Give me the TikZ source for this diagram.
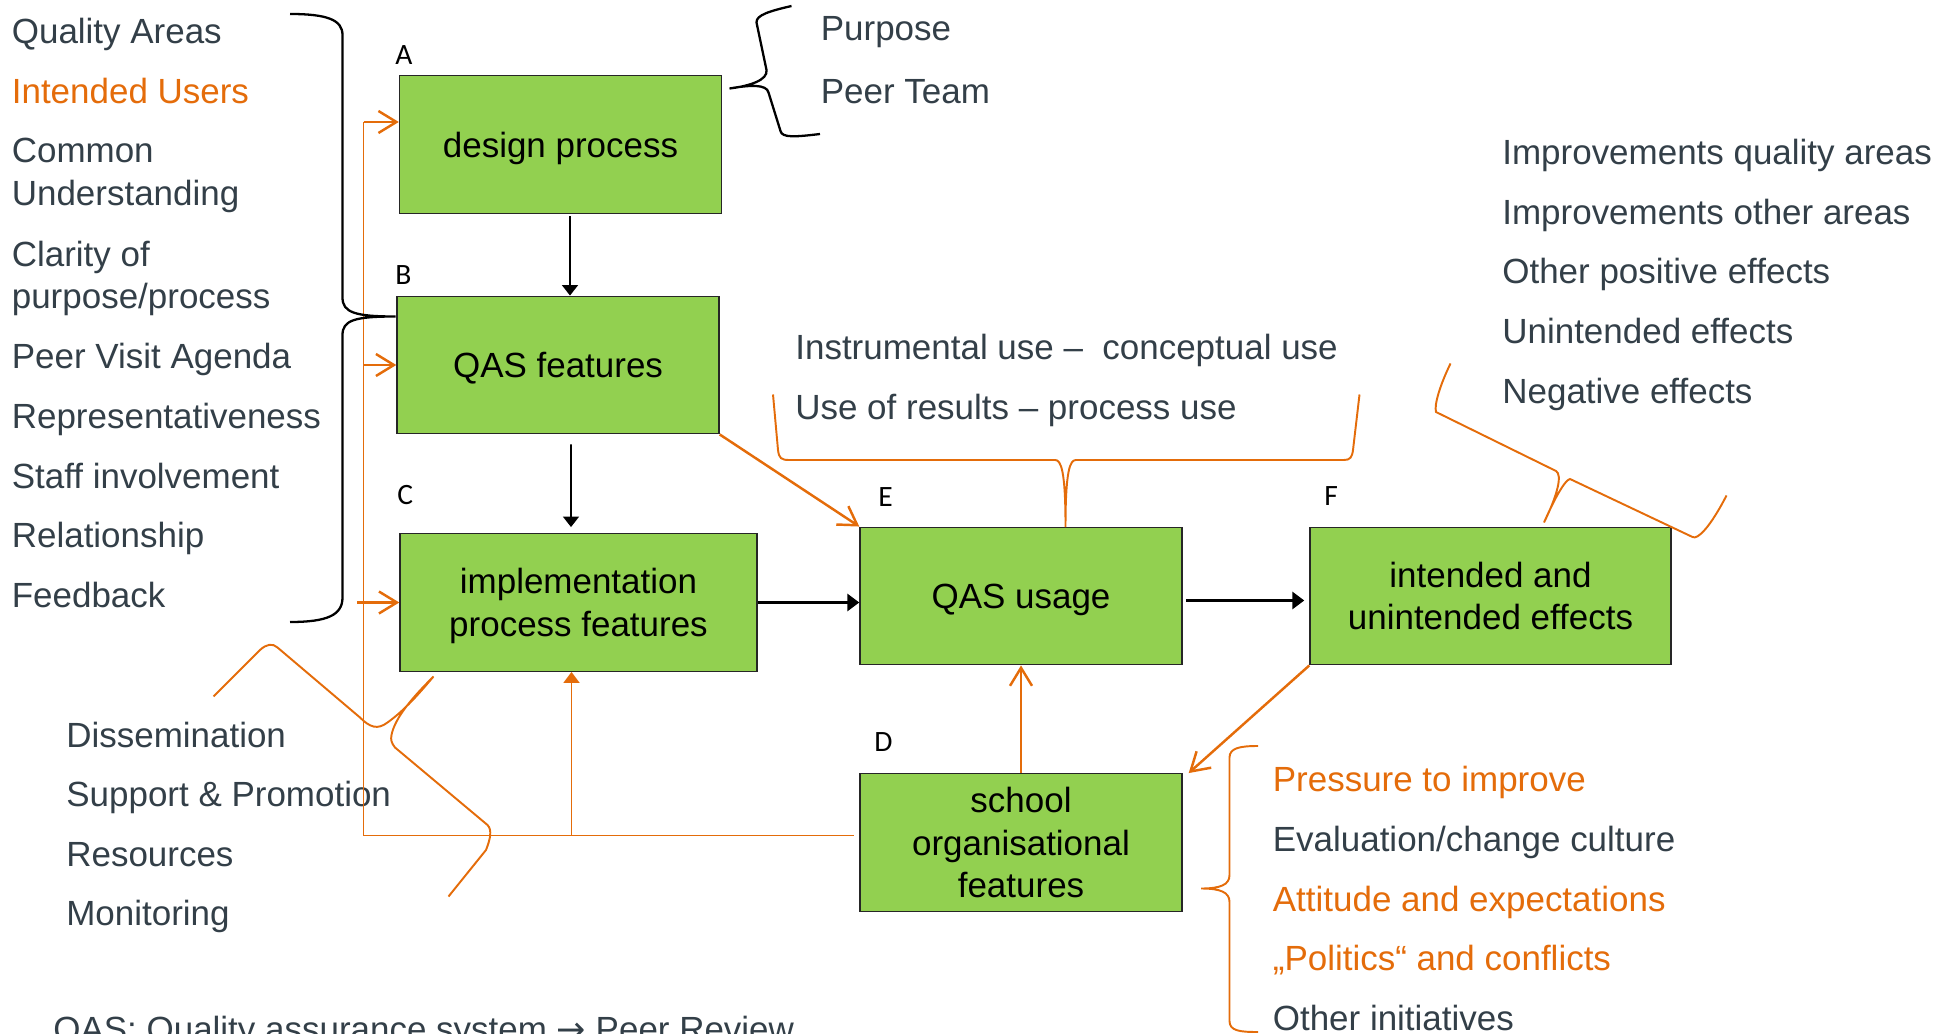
\documentclass[tikz,border=0pt]{standalone}
\usepackage{fontspec}
\setmainfont{Liberation Sans}
\newfontfamily\letterfont{Carlito}
\newfontfamily\arrowfont{DejaVu Sans}
\usetikzlibrary{positioning,arrows.meta}
\definecolor{boxgreen}{HTML}{92D050}
\definecolor{qasorange}{HTML}{E46C0A}
\definecolor{textgray}{HTML}{333F48}

\begin{document}
\begin{tikzpicture}[
green_box/.style={rectangle, draw=black!85, fill=boxgreen, line width=0.8pt, inner sep=0pt, minimum width=64.4mm, minimum height=27.5mm, text depth=0pt, align=center, font=\fontsize{19.9}{24.2}\selectfont},
box_letter/.style={anchor=base west, inner sep=0pt, font=\letterfont\fontsize{16.8}{20}\selectfont},
list_text/.style={anchor=base west, inner sep=0pt, align=left, text=textgray, font=\fontsize{19.9}{24.2}\selectfont},
orange_text/.style={list_text, text=qasorange},
black_arrow/.style={-{Triangle[length=2.1mm,width=3.2mm]}, line width=1pt},
thick_arrow/.style={-{Triangle[length=2.4mm,width=3.4mm]}, line width=2pt},
orange_arrow/.style={-{Straight Barb[length=3.6mm,width=4.4mm]}, draw=qasorange, line width=1.4pt},
orange_fill_arrow/.style={-{Triangle[length=2.2mm,width=3.2mm]}, draw=qasorange, fill=qasorange, line width=1.1pt},
orange_line/.style={draw=qasorange, line width=1.1pt},
black_brace/.style={draw=black, line width=1.3pt},
orange_brace/.style={draw=qasorange, line width=1.1pt}
]
\useasboundingbox (0,0) rectangle (39.06,-20.68);
\clip (0,0) rectangle (39.06,-20.68);

% boxes
\node[green_box](design_process) at (11.21,-2.89) {design process};
\node[green_box](qas_features) at (11.16,-7.30) {QAS features};
\node[green_box, minimum width=71.4mm](implementation) at (11.57,-12.05) {implementation\\process features};
\node[green_box](qas_usage) at (20.42,-11.92) {QAS usage};
\node[green_box, minimum width=72.2mm](effects) at (29.81,-11.92) {intended and\\unintended effects};
\node[green_box](school) at (20.42,-16.85) {school\\organisational\\features};

\node[box_letter](letter_A) at (7.90,-1.30) {A};
\node[box_letter](letter_B) at (7.90,-5.70) {B};
\node[box_letter](letter_C) at (7.94,-10.08) {C};
\node[box_letter](letter_E) at (17.56,-10.12) {E};
\node[box_letter](letter_F) at (26.48,-10.10) {F};
\node[box_letter](letter_D) at (17.48,-15.02) {D};

% quality areas
\node[list_text](quality_areas) at (0.23,-0.88) {Quality Areas};
\node[orange_text](intended_users) at (0.23,-2.07) {Intended Users};
\node[list_text](common_understanding) at (0.23,-4.11) {Common\\Understanding};
\node[list_text](clarity) at (0.23,-6.18) {Clarity of\\purpose/process};
\node[list_text](peer_visit) at (0.23,-7.38) {Peer Visit Agenda};
\node[list_text](representativeness) at (0.23,-8.57) {Representativeness};
\node[list_text](staff) at (0.23,-9.76) {Staff involvement};
\node[list_text](relationship) at (0.23,-10.95) {Relationship};
\node[list_text](feedback) at (0.23,-12.14) {Feedback};

\node[list_text](purpose) at (16.41,-0.81) {Purpose};
\node[list_text](peer_team) at (16.41,-2.07) {Peer Team};

\node[list_text](instrumental_use) at (15.90,-7.20) {Instrumental use –\ \ conceptual use};
\node[list_text](use_of_results) at (15.90,-8.39) {Use of results – process use};

\node[list_text](improvements_quality) at (30.04,-3.29) {Improvements quality areas};
\node[list_text](improvements_other) at (30.04,-4.49) {Improvements other areas};
\node[list_text](positive_effects) at (30.04,-5.68) {Other positive effects};
\node[list_text](unintended_effects) at (30.04,-6.87) {Unintended effects};
\node[list_text](negative_effects) at (30.04,-8.07) {Negative effects};

\node[list_text](dissemination) at (1.32,-14.94) {Dissemination};
\node[list_text](support) at (1.32,-16.13) {Support \& Promotion};
\node[list_text](resources) at (1.32,-17.32) {Resources};
\node[list_text](monitoring) at (1.32,-18.51) {Monitoring};

\node[orange_text](pressure) at (25.45,-15.82) {Pressure to improve};
\node[list_text](evaluation) at (25.45,-17.02) {Evaluation/change culture};
\node[orange_text](attitude) at (25.45,-18.22) {Attitude and expectations};
\node[orange_text](politics) at (25.45,-19.41) {„Politics“ and conflicts};
\node[list_text](initiatives) at (25.45,-20.60) {Other initiatives};

\node[list_text](qas_note) at (1.06,-20.82) {QAS: Quality assurance system {\arrowfont →} Peer Review};

% arrows
\draw[black_arrow]([xshift=0.19cm,yshift=-0.05cm]design_process.south) -- ([xshift=0.24cm]qas_features.north);
\draw[black_arrow]([xshift=0.26cm,yshift=-0.2cm]qas_features.south) -- ([xshift=-0.15cm,yshift=0.12cm]implementation.north);
\draw[thick_arrow](implementation.east) -- (implementation.east -| qas_usage.west);
\draw[thick_arrow]([xshift=0.07cm,yshift=-0.09cm]qas_usage.east) -- ([xshift=-0.1cm,yshift=-0.09cm]effects.west);

\draw[orange_arrow](qas_features.south east) -- (qas_usage.north west);
\draw[orange_arrow](school.north) -- (qas_usage.south);
\draw[orange_arrow](effects.south west) -- ([xshift=0.12cm]school.north east);

% feedback from school features
\coordinate (feedback_corner) at (7.27,-16.71);
\coordinate (feedback_top) at (7.27,-2.44);
\coordinate (feedback_branch) at (11.43,-16.71);
\coordinate (feedback_c) at (7.14,-12.05);
\draw[orange_line]([xshift=-0.11cm,yshift=0.14cm]school.west) -- (feedback_corner);
\draw[orange_line](feedback_corner) -- (feedback_top);
\draw[orange_fill_arrow](feedback_branch) -- (feedback_branch |- implementation.south);
\draw[orange_arrow](feedback_top) -- (feedback_top -| design_process.west);
\draw[orange_arrow](feedback_corner |- qas_features.west) -- (qas_features.west);
\draw[orange_arrow](feedback_c) -- (implementation.west);

% braces
\draw[black_brace](5.80,-0.28) .. controls (6.55,-0.28) and (6.85,-0.40) .. (6.85,-0.70) -- (6.85,-5.95) .. controls (6.85,-6.25) and (7.10,-6.33) .. (7.91,-6.33) .. controls (7.10,-6.33) and (6.85,-6.40) .. (6.85,-6.70) -- (6.85,-11.95) .. controls (6.85,-12.30) and (6.55,-12.44) .. (5.80,-12.44);
\draw[black_brace](15.83,-0.12) .. controls (15.40,-0.22) and (15.12,-0.30) .. (15.13,-0.45) -- (15.33,-1.40) .. controls (15.36,-1.60) and (15.00,-1.72) .. (14.59,-1.77) .. controls (15.00,-1.70) and (15.33,-1.68) .. (15.37,-1.85) -- (15.61,-2.62) .. controls (15.64,-2.76) and (15.90,-2.74) .. (16.40,-2.68);
\draw[orange_brace](15.46,-7.89) -- (15.56,-9.00) .. controls (15.58,-9.16) and (15.62,-9.20) .. (15.78,-9.20) -- (21.10,-9.20) .. controls (21.22,-9.20) and (21.31,-9.40) .. (21.31,-10.54) .. controls (21.31,-9.40) and (21.40,-9.20) .. (21.52,-9.20) -- (26.88,-9.20) .. controls (27.00,-9.20) and (27.04,-9.15) .. (27.06,-9.00) -- (27.19,-7.89);
\draw[orange_brace](29.01,-7.27) .. controls (28.80,-7.70) and (28.68,-8.10) .. (28.72,-8.24) -- (31.12,-9.42) .. controls (31.25,-9.50) and (31.15,-9.90) .. (30.88,-10.45) .. controls (31.10,-9.95) and (31.30,-9.60) .. (31.40,-9.58) -- (33.85,-10.74) .. controls (33.95,-10.80) and (34.20,-10.55) .. (34.53,-9.91);
\draw[orange_brace](4.27,-13.93) -- (5.20,-13.00) .. controls (5.33,-12.88) and (5.45,-12.86) .. (5.55,-12.95) -- (7.20,-14.35) .. controls (7.40,-14.55) and (7.55,-14.60) .. (7.75,-14.45) .. controls (8.10,-14.20) and (8.40,-13.85) .. (8.67,-13.53) .. controls (8.25,-13.95) and (7.90,-14.35) .. (7.83,-14.70) .. controls (7.81,-14.80) and (7.83,-14.86) .. (7.90,-14.95) -- (9.75,-16.50) .. controls (9.85,-16.60) and (9.80,-16.80) .. (9.72,-17.00) -- (8.97,-17.93);
\draw[orange_brace](25.16,-14.92) .. controls (24.80,-14.92) and (24.59,-14.96) .. (24.59,-15.15) -- (24.59,-17.50) .. controls (24.59,-17.70) and (24.40,-17.77) .. (24.02,-17.77) .. controls (24.40,-17.77) and (24.59,-17.84) .. (24.59,-18.04) -- (24.59,-20.42) .. controls (24.59,-20.62) and (24.80,-20.64) .. (25.16,-20.64);

\end{tikzpicture}
\end{document}
